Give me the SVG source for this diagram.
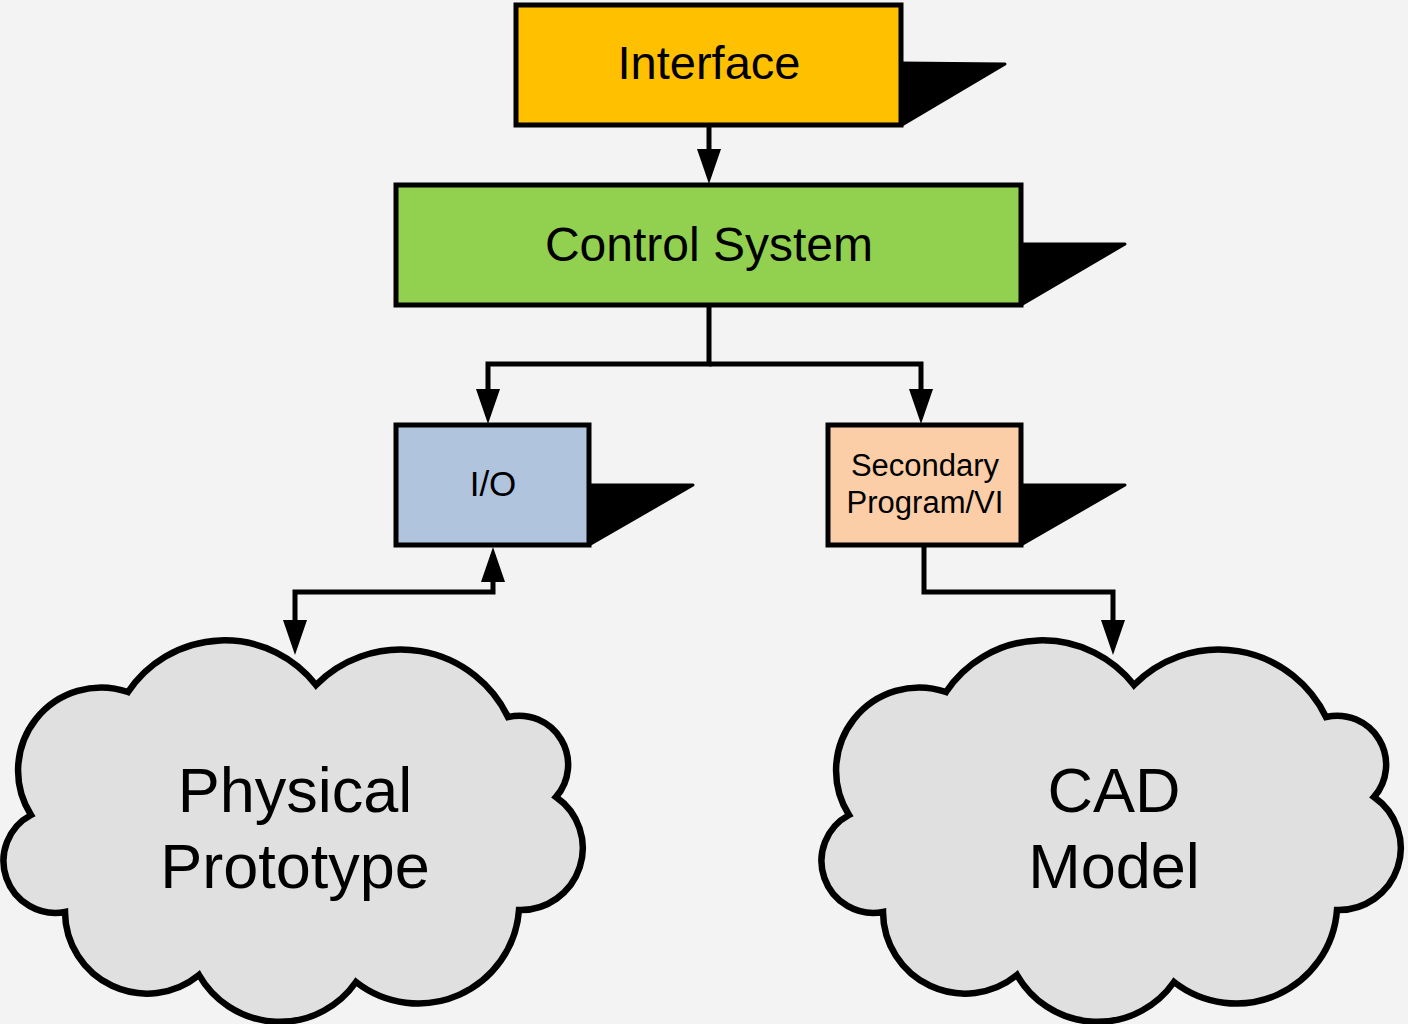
<svg xmlns="http://www.w3.org/2000/svg" width="1408" height="1024" viewBox="0 0 1408 1024">
<style>
.box{stroke:#000;stroke-width:5;stroke-linejoin:miter}
.shadow{fill:#000;stroke:#000;stroke-width:3;stroke-linejoin:round}
.cloud{fill:#E0E0E0;stroke:#000;stroke-width:6.5;stroke-linejoin:miter}
.lbl{font-family:"Liberation Sans",Arial,sans-serif;fill:#000;text-anchor:middle}
.conn{fill:none;stroke:#000;stroke-width:5;stroke-linejoin:miter}
</style>
<defs>
<marker id="arr" markerUnits="userSpaceOnUse" markerWidth="36" markerHeight="26" refX="27" refY="12" orient="auto-start-reverse" viewBox="0 0 36 26">
<path d="M0,0 L35,12 L0,24 Z" fill="#000"/>
</marker>
<path id="cloudShape" d="M128,692 A116,116 0 0 1 316,685 A119,119 0 0 1 508,717 A49,49 0 0 1 556,797 A62,62 0 0 1 519,910 A101,101 0 0 1 356,982 A93,93 0 0 1 199,975 A82,82 0 0 1 65,912 A52,52 0 0 1 31,815 A83,83 0 0 1 128,692 Z"/>
</defs>
<rect width="1408" height="1024" fill="#F3F3F3"/>

<g id="connectors">
<path class="conn" d="M709,125 V176" marker-end="url(#arr)"/>
<path class="conn" d="M709,305 V364 H488 V416" marker-end="url(#arr)"/>
<path class="conn" d="M709,364 H921 V416" marker-end="url(#arr)"/>
<path class="conn" d="M493,555 V592 H295 V647" marker-start="url(#arr)" marker-end="url(#arr)"/>
<path class="conn" d="M924,545 V592 H1113 V647" marker-end="url(#arr)"/>
</g>

<g id="interface">
<polygon class="shadow" points="900,63 1005,64 902,125"/>
<rect class="box" x="516" y="5" width="385" height="120" fill="#FFC000"/>
<text class="lbl" x="709" y="79" font-size="47">Interface</text>
</g>

<g id="control-system">
<polygon class="shadow" points="1019,244 1125,244 1021,305"/>
<rect class="box" x="396" y="185" width="625" height="120" fill="#92D050"/>
<text class="lbl" x="709" y="261" font-size="48">Control System</text>
</g>

<g id="io">
<polygon class="shadow" points="587,485 693,485 589,545"/>
<rect class="box" x="396" y="425" width="193" height="120" fill="#B0C4DE"/>
<text class="lbl" x="493" y="496" font-size="35">I/O</text>
</g>

<g id="secondary">
<polygon class="shadow" points="1019,485 1125,485 1021,545"/>
<rect class="box" x="828" y="425" width="193" height="120" fill="#FBCEA8"/>
<text class="lbl" x="925" y="476" font-size="31">Secondary</text>
<text class="lbl" x="925" y="513" font-size="31">Program/VI</text>
</g>

<g id="physical-prototype">
<use href="#cloudShape" class="cloud"/>
<text class="lbl" x="295" y="812" font-size="63">Physical</text>
<text class="lbl" x="295" y="888" font-size="63">Prototype</text>
</g>

<g id="cad-model">
<use href="#cloudShape" class="cloud" transform="translate(818,0)"/>
<text class="lbl" x="1114" y="812" font-size="63">CAD</text>
<text class="lbl" x="1114" y="888" font-size="63">Model</text>
</g>
</svg>
